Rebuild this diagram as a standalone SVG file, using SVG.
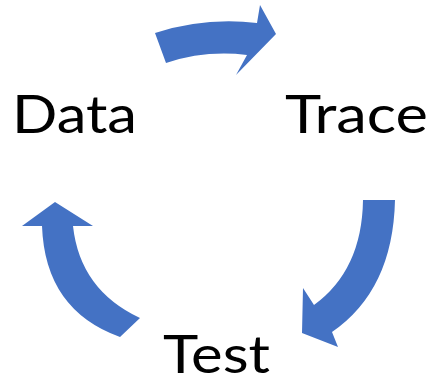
<svg xmlns="http://www.w3.org/2000/svg" width="434" height="381" viewBox="0 0 434 381">
  <style>
    .arrow { fill: #4472C4; stroke: none; }
    .label { font-family: Lato, "Open Sans", "Liberation Sans", sans-serif; font-size: 53px; fill: #000000; }
  </style>
  <rect width="434" height="381" fill="#ffffff"/>
  <!-- curved block arrows forming the cycle -->
  <g id="connectors">
    <path id="arrow-data-trace" class="arrow" d="M155,33 Q205,17 257,23 L260,5 L276,34 L236,75 L247,55 Q205,50 166,63 Z"/>
    <path id="arrow-trace-test" class="arrow" d="M363,200 L395,200 Q393,290 332,332 L338,347 L302,333 L303,288 L314,305 Q362,270 363,200 Z"/>
    <path id="arrow-test-data" class="arrow" d="M42,226 L22,226 L55,202 L93,226 L73,226 Q80,290 140,318 L120,337 Q45,310 42,226 Z"/>
  </g>
  <g id="node-data">
    <text class="label" x="12" y="133" textLength="125" lengthAdjust="spacingAndGlyphs">Data</text>
  </g>
  <g id="node-trace">
    <text class="label" x="285" y="133" textLength="143" lengthAdjust="spacingAndGlyphs">Trace</text>
  </g>
  <g id="node-test">
    <text class="label" x="163" y="373" textLength="107" lengthAdjust="spacingAndGlyphs">Test</text>
  </g>
</svg>
